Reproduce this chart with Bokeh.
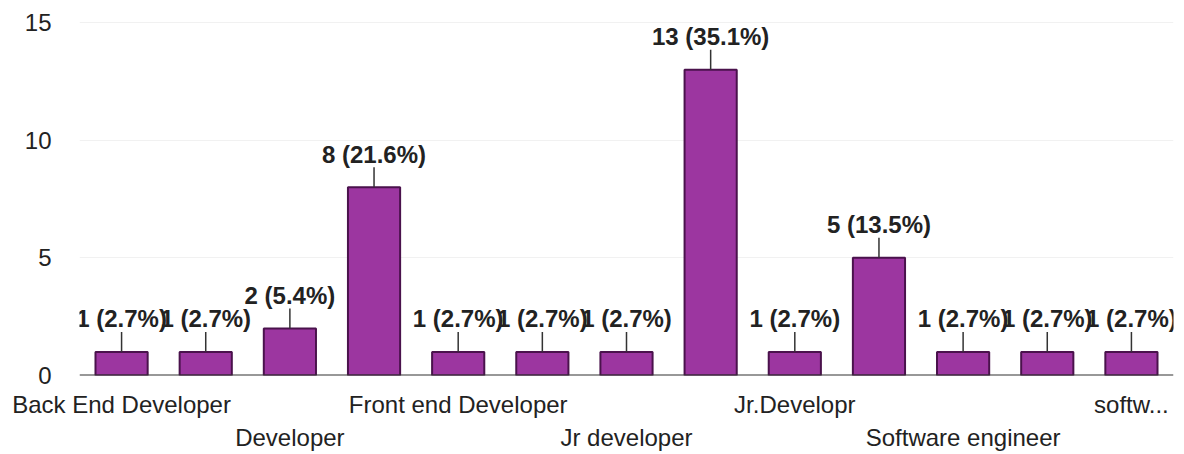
from bokeh.plotting import figure
from bokeh.models import Range1d, FixedTicker, ColumnDataSource, Span, LabelSet
from bokeh.core.properties import value
from bokeh.embed import file_html
from bokeh.resources import INLINE

# ---- data ----
categories = ["Back End Developer", "", "Developer", "", "Front end Developer", "",
              "Jr developer", "", "Jr.Developr", "", "Software engineer", "", "softw..."]
counts = [1, 1, 2, 8, 1, 1, 1, 13, 1, 5, 1, 1, 1]
y_ticks = [0, 5, 10, 15]

total = sum(counts)
xs = list(range(len(counts)))
value_labels = [f"{c} ({c / total * 100:.1f}%)" for c in counts]
# alternate label rows (second row pushed down by a leading line break)
tick_text = {i: (c if (i // 2) % 2 == 0 else "\n" + c) for i, c in zip(xs, categories)}

src = ColumnDataSource(dict(x=xs, top=counts, lbl=value_labels))

FONT = "Liberation Sans"

p = figure(width=1184, height=454, output_backend="svg", toolbar_location=None,
           x_range=Range1d(-0.5, 12.5), y_range=Range1d(0, 15.6),
           min_border_left=79, min_border_right=11,
           min_border_top=8, min_border_bottom=78)
p.outline_line_color = None
p.background_fill_color = "white"
p.xgrid.visible = False

# x axis (category labels)
p.xaxis.ticker = FixedTicker(ticks=xs)
p.xaxis.major_label_overrides = tick_text
p.xaxis.axis_line_color = None
p.xaxis.major_tick_line_color = None
p.xaxis.minor_tick_line_color = None
p.xaxis.major_label_standoff = 9
p.xaxis.major_label_text_font = FONT
p.xaxis.major_label_text_font_size = "24px"
p.xaxis.major_label_text_color = "#222222"
p.xaxis.major_label_text_line_height = 1.25

# y axis
p.yaxis.ticker = FixedTicker(ticks=y_ticks)
p.yaxis.axis_line_color = None
p.yaxis.major_tick_line_color = None
p.yaxis.minor_tick_line_color = None
p.yaxis.major_label_standoff = 22
p.yaxis.major_label_text_font = FONT
p.yaxis.major_label_text_font_size = "24px"
p.yaxis.major_label_text_color = "#222222"
p.ygrid.ticker = FixedTicker(ticks=[5, 10, 15])
p.ygrid.grid_line_color = "#f1f1f1"

# bars
p.vbar(x="x", top="top", bottom=0, width=0.62, source=src,
       fill_color="#9c36a0", line_color="#4a124c", line_width=2)

# baseline
p.add_layout(Span(location=0, dimension="width", line_color="#333333", line_width=2))

# leader lines
p.ray(x="x", y="top", length=20, length_units="screen", angle=90, angle_units="deg",
      source=src, line_color="#333333", line_width=1.5)

# value labels
p.add_layout(LabelSet(x="x", y="top", text="lbl", source=src, y_offset=33,
                      text_align="center", text_baseline="middle",
                      text_font=value(FONT), text_font_size="24px", text_font_style="bold",
                      text_color="#222222"))

open("out.html", "w").write(file_html(p, INLINE))
